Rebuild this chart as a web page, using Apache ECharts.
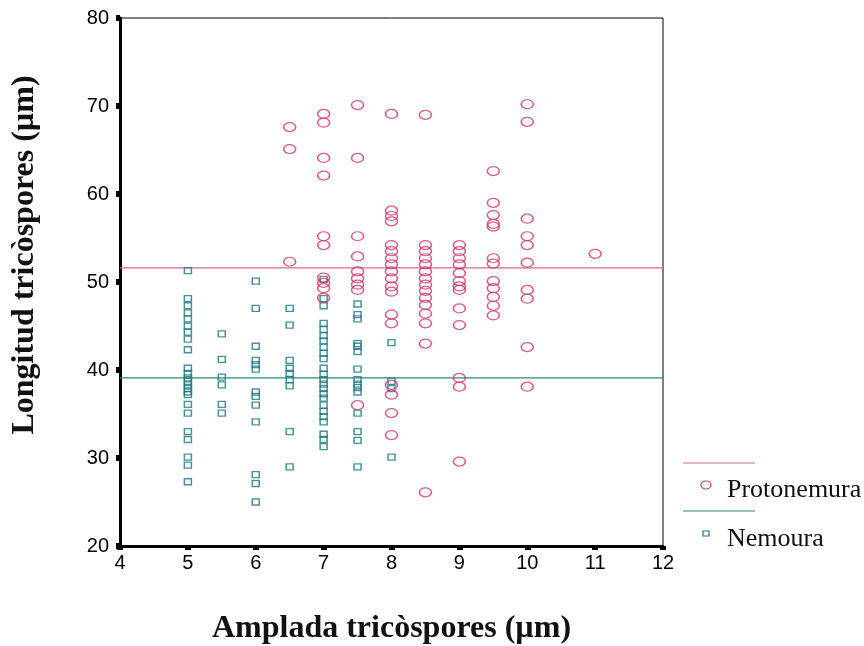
<!DOCTYPE html>
<html>
<head>
<meta charset="utf-8">
<script src="https://cdn.jsdelivr.net/npm/echarts@6/dist/echarts.min.js"></script>
<style>html,body{margin:0;padding:0;background:#fff}#c{width:864px;height:646px}</style>
</head>
<body>
<div id="c"></div>
<script>
// Protonemura points [width, length]
const protonemura = [
  [6.5,67.6],[6.5,65.1],[6.5,52.3],
  [7,69.1],[7,68.1],[7,64.1],[7,62.1],[7,55.2],[7,54.2],[7,50.5],[7,49.9],[7,49.3],[7,48.2],
  [7.5,70.1],[7.5,64.1],[7.5,55.2],[7.5,52.9],[7.5,51.2],[7.5,50.4],[7.5,49.7],[7.5,49.1],[7.5,36.0],
  [8,69.1],[8,58.1],[8,57.5],[8,56.9],[8,54.2],[8,53.5],[8,52.7],[8,52.0],[8,51.2],[8,50.4],[8,49.5],[8,48.9],[8,46.3],[8,45.3],[8,38.3],[8,37.2],[8,35.1],[8,32.6],
  [8.5,69.0],[8.5,54.2],[8.5,53.5],[8.5,52.7],[8.5,52.0],[8.5,51.2],[8.5,50.4],[8.5,49.7],[8.5,49.0],[8.5,48.2],[8.5,47.4],[8.5,46.4],[8.5,45.3],[8.5,43.0],[8.5,26.1],
  [9,54.2],[9,53.5],[9,52.7],[9,52.0],[9,51.0],[9,50.1],[9,49.5],[9,49.1],[9,47.0],[9,45.1],[9,39.1],[9,38.1],[9,29.6],
  [9.5,62.6],[9.5,59.0],[9.5,57.6],[9.5,56.6],[9.5,56.3],[9.5,52.7],[9.5,52.1],[9.5,50.1],[9.5,49.3],[9.5,48.3],[9.5,47.3],[9.5,46.2],
  [10,70.2],[10,68.2],[10,57.2],[10,55.2],[10,54.2],[10,52.2],[10,49.1],[10,48.1],[10,42.6],[10,38.1],
  [11,53.2]
];
// Nemoura points [width, length]
const nemoura = [
  [5,51.3],[5,48.1],[5,47.3],[5,46.5],[5,45.8],[5,45.0],[5,44.3],[5,43.5],[5,42.3],[5,40.2],[5,39.6],[5,39.1],[5,38.7],[5,38.3],[5,37.9],[5,37.5],[5,37.2],[5,36.1],[5,35.1],[5,33.0],[5,32.1],[5,30.1],[5,29.2],[5,27.3],
  [5.5,44.1],[5.5,41.2],[5.5,39.2],[5.5,38.3],[5.5,36.1],[5.5,35.1],
  [6,50.1],[6,47.0],[6,42.7],[6,41.1],[6,40.6],[6,40.1],[6,37.5],[6,37.0],[6,36.0],[6,34.1],[6,28.1],[6,27.1],[6,25.0],
  [6.5,47.0],[6.5,45.1],[6.5,41.1],[6.5,40.2],[6.5,39.6],[6.5,38.9],[6.5,38.2],[6.5,33.0],[6.5,29.0],
  [7,50.3],[7,48.1],[7,47.3],[7,45.3],[7,44.6],[7,43.9],[7,43.3],[7,42.6],[7,41.9],[7,41.3],[7,40.2],[7,39.5],[7,38.9],[7,38.4],[7,37.9],[7,37.3],[7,36.8],[7,36.0],[7,35.3],[7,34.7],[7,34.1],[7,32.7],[7,32.1],[7,31.3],
  [7.5,47.5],[7.5,46.3],[7.5,45.8],[7.5,43.0],[7.5,42.7],[7.5,42.1],[7.5,40.1],[7.5,38.9],[7.5,38.4],[7.5,38.0],[7.5,37.5],[7.5,35.1],[7.5,33.0],[7.5,32.0],[7.5,29.0],
  [8,43.1],[8,38.7],[8,37.9],[8,30.1]
];
// Mean (fit) lines
const meanProtonemura = 51.6;
const meanNemoura = 39.1;
const xRange = [4, 12];
const yRange = [20, 80];
const seriesNames = ['Protonemura', 'Nemoura'];
const xTitle = 'Amplada tricòspores (µm)';
const yTitle = 'Longitud tricòspores (µm)';

const pinkMark = '#cc3868';
const pinkLine = '#d86a88';
const tealMark = '#1d7780';
const tealLine = '#2f8383';

const chart = echarts.init(document.getElementById('c'), null, {renderer: 'canvas'});
chart.setOption({
  animation: false,
  backgroundColor: '#fff',
  grid: {left: 120, right: 201, top: 18, bottom: 100, outerBoundsMode: 'none', containLabel: false,
         show: true, borderColor: '#000', borderWidth: 1, backgroundColor: 'transparent'},
  xAxis: {
    type: 'value', min: xRange[0], max: xRange[1], interval: 1,
    name: xTitle, nameLocation: 'middle', nameGap: 67,
    nameTextStyle: {fontFamily: 'Liberation Serif', fontWeight: 'bold', fontSize: 32, color: '#111'},
    axisLine: {onZero: false, lineStyle: {color: '#000', width: 3}},
    axisTick: {show: true, length: 4, lineStyle: {color: '#000', width: 6}},
    axisLabel: {fontFamily: 'Liberation Sans', fontSize: 20, color: '#000', margin: 7},
    splitLine: {show: false}
  },
  yAxis: {
    type: 'value', min: yRange[0], max: yRange[1], interval: 10,
    axisLine: {onZero: false, lineStyle: {color: '#000', width: 3}},
    axisTick: {show: true, length: 4, lineStyle: {color: '#000', width: 6}},
    axisLabel: {fontFamily: 'Liberation Sans', fontSize: 20, color: '#000', margin: 11},
    splitLine: {show: false}
  },
  series: [
    {
      name: seriesNames[0] + ' mean', type: 'line', data: [[xRange[0], meanProtonemura], [xRange[1], meanProtonemura]],
      symbol: 'none', lineStyle: {color: pinkLine, width: 1.2}, z: 1
    },
    {
      name: seriesNames[1] + ' mean', type: 'line', data: [[xRange[0], meanNemoura], [xRange[1], meanNemoura]],
      symbol: 'none', lineStyle: {color: tealLine, width: 1.2}, z: 1
    },
    {
      name: seriesNames[0], type: 'scatter', data: protonemura, symbol: 'circle', symbolSize: [12, 9],
      itemStyle: {color: 'rgba(0,0,0,0)', borderColor: pinkMark, borderWidth: 1.4}, z: 3
    },
    {
      name: seriesNames[1], type: 'scatter', data: nemoura, symbol: 'rect', symbolSize: [7, 6],
      itemStyle: {color: 'rgba(0,0,0,0)', borderColor: tealMark, borderWidth: 1.4}, z: 2
    }
  ],
  graphic: [
    {type: 'text', x: 25, y: 255, rotation: Math.PI / 2,
     style: {text: yTitle, fontFamily: 'Liberation Serif', fontWeight: 'bold', fontSize: 32, fill: '#111', align: 'center', verticalAlign: 'middle'}},
    {type: 'line', shape: {x1: 683, y1: 463, x2: 755, y2: 463}, style: {stroke: pinkLine, lineWidth: 1.2}},
    {type: 'ellipse', shape: {cx: 706, cy: 485, rx: 5, ry: 4}, style: {fill: 'none', stroke: pinkMark, lineWidth: 1.2}},
    {type: 'text', x: 727, y: 490, style: {text: seriesNames[0], fontFamily: 'Liberation Serif', fontSize: 26, fill: '#111', verticalAlign: 'middle'}},
    {type: 'line', shape: {x1: 683, y1: 511, x2: 755, y2: 511}, style: {stroke: tealLine, lineWidth: 1.2}},
    {type: 'rect', shape: {x: 703, y: 531, width: 6, height: 5}, style: {fill: 'none', stroke: tealMark, lineWidth: 1.2}},
    {type: 'text', x: 727, y: 539, style: {text: seriesNames[1], fontFamily: 'Liberation Serif', fontSize: 26, fill: '#111', verticalAlign: 'middle'}}
  ]
});
</script>
</body>
</html>
